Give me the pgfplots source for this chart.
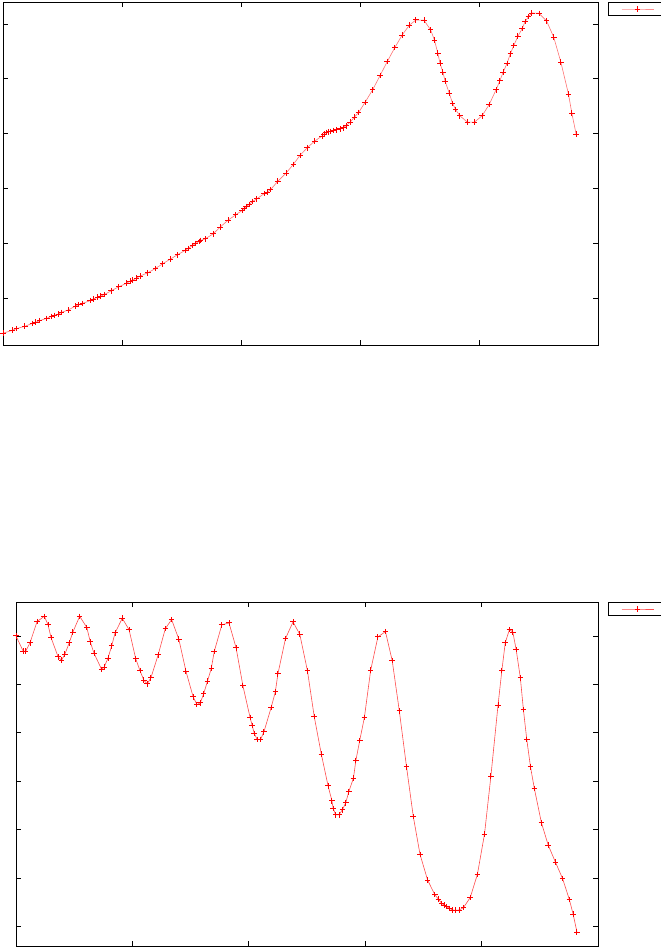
\documentclass[border=0pt]{standalone}
\usepackage{pgfplots}
\pgfplotsset{compat=1.18}
\begin{document}
\begin{tikzpicture}
\useasboundingbox (0bp,0bp) rectangle (661bp,-948bp);
\pgfplotsset{
  every axis/.append style={
    scale only axis,
    axis line style={line width=1bp},
    every tick/.style={black,line width=0.8bp},
    major tick length=5bp,
    xticklabels=\empty, yticklabels=\empty,
    clip=false,
  },
  mylegend/.style 2 args={
    legend style={at={(#1,1)},anchor=north west,draw=black,line width=1bp,
      inner sep=0pt, nodes={inner sep=0pt,text depth=0pt}, row sep=0pt},
    legend image code/.code={
      \path[draw=none,fill=none] (-13bp,-6.5bp) rectangle (39bp,6.5bp);
      \draw[mark repeat=2,mark phase=2,draw=#2,line width=0.8bp,
        mark options={solid,draw=red,line width=0.9bp}]
        plot coordinates {(0bp,0bp)(16bp,0bp)(32bp,0bp)};
    },
  },
}
\begin{axis}[at={(3bp,-2bp)},anchor=north west,width=595bp,height=343bp,
  xmin=0,xmax=5,ymin=0.15,ymax=6.4,
  xtick={1,2,3,4},ytick={1,2,3,4,5,6},
  mylegend={1.0168}{red!45}]
\addplot[color=red!55,line width=0.6bp,mark=+,mark size=2.8bp,
  mark options={solid,red,line width=0.9bp}] coordinates {
(0.000,0.364)(0.078,0.418)(0.113,0.448)(0.184,0.491)(0.248,0.545)(0.276,0.564)
(0.308,0.594)(0.368,0.636)(0.407,0.673)(0.432,0.691)(0.467,0.715)(0.492,0.745)
(0.549,0.788)(0.609,0.861)(0.637,0.885)(0.669,0.909)(0.733,0.958)(0.758,0.988)
(0.797,1.024)(0.822,1.042)(0.850,1.067)(0.910,1.139)(0.974,1.212)(1.041,1.279)
(1.069,1.315)(1.091,1.333)(1.123,1.370)(1.151,1.406)(1.218,1.467)(1.282,1.545)
(1.342,1.630)(1.406,1.715)(1.466,1.794)(1.530,1.873)(1.555,1.909)(1.593,1.964)
(1.618,2.000)(1.647,2.036)(1.661,2.055)(1.700,2.085)(1.767,2.176)(1.824,2.297)
(1.891,2.424)(1.955,2.521)(2.008,2.600)(2.025,2.636)(2.043,2.673)(2.068,2.709)
(2.096,2.764)(2.132,2.812)(2.195,2.909)(2.220,2.933)(2.249,2.982)(2.309,3.133)
(2.380,3.285)(2.440,3.442)(2.496,3.606)(2.557,3.745)(2.620,3.867)(2.681,3.958)
(2.698,3.994)(2.716,4.024)(2.734,4.036)(2.751,4.042)(2.776,4.061)(2.805,4.073)
(2.833,4.091)(2.858,4.109)(2.882,4.145)(2.918,4.212)(2.953,4.303)(2.989,4.388)
(3.042,4.570)(3.106,4.800)(3.169,5.061)(3.229,5.315)(3.293,5.570)(3.353,5.794)
(3.414,5.976)(3.470,6.073)(3.538,6.067)(3.594,5.891)(3.626,5.703)(3.654,5.467)
(3.672,5.285)(3.697,5.121)(3.715,4.958)(3.750,4.739)(3.778,4.552)(3.803,4.442)
(3.839,4.327)(3.902,4.212)(3.962,4.212)(4.026,4.327)(4.086,4.533)(4.143,4.800)
(4.175,4.964)(4.203,5.121)(4.235,5.279)(4.263,5.455)(4.292,5.606)(4.327,5.776)
(4.363,5.915)(4.387,6.042)(4.416,6.133)(4.444,6.200)(4.504,6.194)(4.568,6.055)
(4.628,5.758)(4.688,5.303)(4.752,4.721)(4.780,4.376)(4.816,3.994)
};
\addlegendentry{}
\end{axis}
\begin{axis}[at={(16bp,-602bp)},anchor=north west,width=582bp,height=344bp,
  xmin=0,xmax=5,ymin=0.6,ymax=7.7,
  xtick={1,2,3,4},ytick={1,2,3,4,5,6,7},
  mylegend={1.0172}{red!70}]
\addplot[color=red!70,line width=0.6bp,mark=+,mark size=2.8bp,
  mark options={solid,red,line width=0.9bp}] coordinates {
(0.000,7.000)(0.062,6.684)(0.083,6.684)(0.120,6.856)(0.181,7.296)(0.243,7.405)
(0.275,7.234)(0.301,6.966)(0.362,6.567)(0.391,6.498)(0.420,6.622)(0.457,6.856)
(0.489,7.082)(0.547,7.405)(0.609,7.172)(0.638,6.876)(0.670,6.643)(0.736,6.306)
(0.757,6.354)(0.790,6.540)(0.822,6.794)(0.851,7.062)(0.913,7.364)(0.971,7.131)
(1.029,6.526)(1.065,6.285)(1.098,6.086)(1.127,6.010)(1.159,6.134)(1.221,6.608)
(1.283,7.151)(1.337,7.337)(1.399,6.931)(1.460,6.271)(1.522,5.742)(1.554,5.584)
(1.583,5.619)(1.612,5.804)(1.645,6.065)(1.678,6.333)(1.703,6.677)(1.768,7.227)
(1.830,7.268)(1.891,6.753)(1.949,5.976)(2.011,5.316)(2.029,5.151)(2.047,4.986)
(2.072,4.863)(2.101,4.863)(2.130,5.021)(2.192,5.522)(2.228,5.845)(2.250,6.216)
(2.315,6.945)(2.380,7.289)(2.438,7.034)(2.504,6.278)(2.562,5.337)(2.623,4.560)
(2.681,3.907)(2.714,3.598)(2.725,3.440)(2.746,3.309)(2.775,3.309)(2.804,3.412)
(2.833,3.557)(2.859,3.784)(2.899,4.065)(2.920,4.430)(2.953,4.842)(2.993,5.316)
(3.047,6.292)(3.109,6.979)(3.174,7.089)(3.232,6.491)(3.293,5.454)(3.355,4.299)
(3.413,3.275)(3.471,2.491)(3.536,1.962)(3.598,1.660)(3.630,1.564)(3.656,1.481)
(3.678,1.447)(3.699,1.412)(3.725,1.378)(3.750,1.344)(3.779,1.337)(3.808,1.344)
(3.844,1.392)(3.902,1.598)(3.964,2.079)(4.025,2.911)(4.080,4.107)(4.141,5.570)
(4.174,6.285)(4.203,6.856)(4.239,7.131)(4.268,7.082)(4.297,6.718)(4.333,6.134)
(4.359,5.481)(4.388,4.863)(4.420,4.299)(4.453,3.852)(4.514,3.144)(4.572,2.684)
(4.634,2.333)(4.696,1.990)(4.754,1.557)(4.786,1.261)(4.819,0.890)
};
\addlegendentry{}
\end{axis}
\end{tikzpicture}
\end{document}
